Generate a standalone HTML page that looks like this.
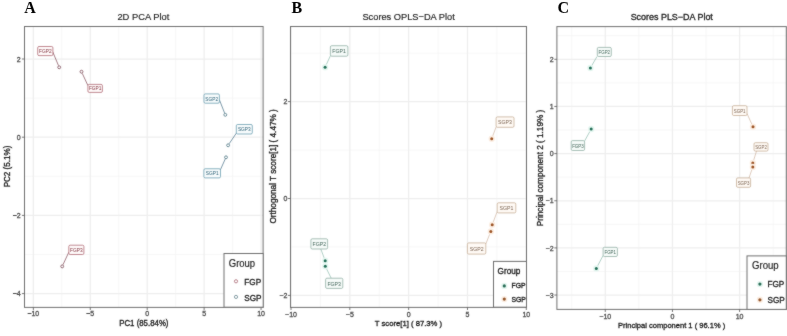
<!DOCTYPE html>
<html><head><meta charset="utf-8"><style>
html,body{margin:0;padding:0;background:#fff;}
body{width:787px;height:336px;overflow:hidden;}
svg{display:block;}
</style></head><body>
<svg width="787" height="336" viewBox="0 0 787 336">
<defs><filter id="bl" x="0" y="0" width="787" height="336" filterUnits="userSpaceOnUse" color-interpolation-filters="sRGB"><feConvolveMatrix order="3" kernelMatrix="1 2 1 2 24.0 2 1 2 1" edgeMode="duplicate" preserveAlpha="true"/></filter><filter id="bl2" x="0" y="0" width="787" height="336" filterUnits="userSpaceOnUse" color-interpolation-filters="sRGB"><feConvolveMatrix order="3" kernelMatrix="0 1 0 1 40 1 0 1 0" preserveAlpha="false"/></filter></defs>
<rect width="787" height="336" fill="#fff"/>
<g filter="url(#bl)">
<rect width="787" height="336" fill="#fff"/>
<g>
<line x1="61.81" y1="26.5" x2="61.81" y2="307.4" stroke="#f3f3f3" stroke-width="0.7"/>
<line x1="118.74" y1="26.5" x2="118.74" y2="307.4" stroke="#f3f3f3" stroke-width="0.7"/>
<line x1="175.66" y1="26.5" x2="175.66" y2="307.4" stroke="#f3f3f3" stroke-width="0.7"/>
<line x1="232.59" y1="26.5" x2="232.59" y2="307.4" stroke="#f3f3f3" stroke-width="0.7"/>
<line x1="24.5" y1="98.1" x2="263.1" y2="98.1" stroke="#f3f3f3" stroke-width="0.7"/>
<line x1="24.5" y1="176.3" x2="263.1" y2="176.3" stroke="#f3f3f3" stroke-width="0.7"/>
<line x1="24.5" y1="254.5" x2="263.1" y2="254.5" stroke="#f3f3f3" stroke-width="0.7"/>
<line x1="33.35" y1="26.5" x2="33.35" y2="307.4" stroke="#eeeeee" stroke-width="1.25"/>
<line x1="90.27" y1="26.5" x2="90.27" y2="307.4" stroke="#eeeeee" stroke-width="1.25"/>
<line x1="147.2" y1="26.5" x2="147.2" y2="307.4" stroke="#eeeeee" stroke-width="1.25"/>
<line x1="204.12" y1="26.5" x2="204.12" y2="307.4" stroke="#eeeeee" stroke-width="1.25"/>
<line x1="261.05" y1="26.5" x2="261.05" y2="307.4" stroke="#eeeeee" stroke-width="1.25"/>
<line x1="24.5" y1="59" x2="263.1" y2="59" stroke="#eeeeee" stroke-width="1.25"/>
<line x1="24.5" y1="137.2" x2="263.1" y2="137.2" stroke="#eeeeee" stroke-width="1.25"/>
<line x1="24.5" y1="215.4" x2="263.1" y2="215.4" stroke="#eeeeee" stroke-width="1.25"/>
<line x1="24.5" y1="293.6" x2="263.1" y2="293.6" stroke="#eeeeee" stroke-width="1.25"/>
<line x1="58.51" y1="65.64" x2="52.6" y2="51.5" stroke="#6a2836" stroke-width="0.6"/>
<line x1="82.26" y1="73.33" x2="87.9" y2="85.5" stroke="#6a2836" stroke-width="0.6"/>
<line x1="62.96" y1="264.77" x2="68.8" y2="252.2" stroke="#6a2836" stroke-width="0.6"/>
<line x1="224.64" y1="113.13" x2="219.3" y2="99.6" stroke="#24546e" stroke-width="0.6"/>
<line x1="229.11" y1="143.81" x2="237.4" y2="131.6" stroke="#24546e" stroke-width="0.6"/>
<line x1="225.26" y1="158.94" x2="220.3" y2="170" stroke="#24546e" stroke-width="0.6"/>
<rect x="37.7" y="46.5" width="15.2" height="9.1" rx="1.3" fill="#fffafa" stroke="#a85a66" stroke-width="0.7"/>
<text x="45.3" y="53.04" font-size="4.8" text-anchor="middle" fill="#7e2e3a" font-weight="normal" font-family='"Liberation Sans", sans-serif' transform="translate(45.3 53.04) scale(1 1.15) translate(-45.3 -53.04)">FGP2</text>
<rect x="87.9" y="84.4" width="14.5" height="8" rx="1.3" fill="#fffafa" stroke="#a85a66" stroke-width="0.7"/>
<text x="95.15" y="90.39" font-size="4.8" text-anchor="middle" fill="#7e2e3a" font-weight="normal" font-family='"Liberation Sans", sans-serif' transform="translate(95.15 90.39) scale(1 1.15) translate(-95.15 -90.39)">FGP1</text>
<rect x="68.8" y="245.2" width="15.1" height="9.3" rx="1.3" fill="#fffafa" stroke="#a85a66" stroke-width="0.7"/>
<text x="76.35" y="251.84" font-size="4.8" text-anchor="middle" fill="#7e2e3a" font-weight="normal" font-family='"Liberation Sans", sans-serif' transform="translate(76.35 251.84) scale(1 1.15) translate(-76.35 -251.84)">FGP3</text>
<rect x="204" y="93.9" width="15.4" height="9.3" rx="1.3" fill="#f8fcfd" stroke="#5a94a8" stroke-width="0.7"/>
<text x="211.7" y="100.54" font-size="4.8" text-anchor="middle" fill="#285e74" font-weight="normal" font-family='"Liberation Sans", sans-serif' transform="translate(211.7 100.54) scale(1 1.15) translate(-211.7 -100.54)">SGP2</text>
<rect x="236.3" y="124.5" width="16" height="9.5" rx="1.3" fill="#f8fcfd" stroke="#5a94a8" stroke-width="0.7"/>
<text x="244.3" y="131.24" font-size="4.8" text-anchor="middle" fill="#285e74" font-weight="normal" font-family='"Liberation Sans", sans-serif' transform="translate(244.3 131.24) scale(1 1.15) translate(-244.3 -131.24)">SGP3</text>
<rect x="203.9" y="168.75" width="16.6" height="9.15" rx="1.3" fill="#f8fcfd" stroke="#5a94a8" stroke-width="0.7"/>
<text x="212.2" y="175.31" font-size="4.8" text-anchor="middle" fill="#285e74" font-weight="normal" font-family='"Liberation Sans", sans-serif' transform="translate(212.2 175.31) scale(1 1.15) translate(-212.2 -175.31)">SGP1</text>
<circle cx="59.2" cy="67.3" r="1.45" fill="none" stroke="#74404e" stroke-width="0.75"/>
<circle cx="81.5" cy="71.7" r="1.45" fill="none" stroke="#74404e" stroke-width="0.75"/>
<circle cx="62.2" cy="266.4" r="1.45" fill="none" stroke="#74404e" stroke-width="0.75"/>
<circle cx="225.3" cy="114.8" r="1.45" fill="none" stroke="#46707e" stroke-width="0.75"/>
<circle cx="228.1" cy="145.3" r="1.45" fill="none" stroke="#46707e" stroke-width="0.75"/>
<circle cx="226" cy="157.3" r="1.45" fill="none" stroke="#46707e" stroke-width="0.75"/>
<rect x="24.5" y="26.5" width="238.6" height="280.9" fill="none" stroke="#707070" stroke-width="1.0"/>
<line x1="33.35" y1="307.4" x2="33.35" y2="310" stroke="#555" stroke-width="0.8"/>
<text x="33.35" y="316.5" font-size="7" text-anchor="middle" fill="#4d4d4d" font-weight="normal" font-family='"Liberation Sans", sans-serif' transform="translate(33.35 316.5) scale(1 1.08) translate(-33.35 -316.5)" stroke="#4d4d4d" stroke-width="0.3">−10</text>
<line x1="90.27" y1="307.4" x2="90.27" y2="310" stroke="#555" stroke-width="0.8"/>
<text x="90.27" y="316.5" font-size="7" text-anchor="middle" fill="#4d4d4d" font-weight="normal" font-family='"Liberation Sans", sans-serif' transform="translate(90.27 316.5) scale(1 1.08) translate(-90.27 -316.5)" stroke="#4d4d4d" stroke-width="0.3">−5</text>
<line x1="147.2" y1="307.4" x2="147.2" y2="310" stroke="#555" stroke-width="0.8"/>
<text x="147.2" y="316.5" font-size="7" text-anchor="middle" fill="#4d4d4d" font-weight="normal" font-family='"Liberation Sans", sans-serif' transform="translate(147.2 316.5) scale(1 1.08) translate(-147.2 -316.5)" stroke="#4d4d4d" stroke-width="0.3">0</text>
<line x1="204.12" y1="307.4" x2="204.12" y2="310" stroke="#555" stroke-width="0.8"/>
<text x="204.12" y="316.5" font-size="7" text-anchor="middle" fill="#4d4d4d" font-weight="normal" font-family='"Liberation Sans", sans-serif' transform="translate(204.12 316.5) scale(1 1.08) translate(-204.12 -316.5)" stroke="#4d4d4d" stroke-width="0.3">5</text>
<line x1="261.05" y1="307.4" x2="261.05" y2="310" stroke="#555" stroke-width="0.8"/>
<text x="261.05" y="316.5" font-size="7" text-anchor="middle" fill="#4d4d4d" font-weight="normal" font-family='"Liberation Sans", sans-serif' transform="translate(261.05 316.5) scale(1 1.08) translate(-261.05 -316.5)" stroke="#4d4d4d" stroke-width="0.3">10</text>
<line x1="21.9" y1="59" x2="24.5" y2="59" stroke="#555" stroke-width="0.8"/>
<text x="20.6" y="61.87" font-size="7" text-anchor="end" fill="#4d4d4d" font-weight="normal" font-family='"Liberation Sans", sans-serif' transform="translate(20.6 61.87) scale(1 1.08) translate(-20.6 -61.87)" stroke="#4d4d4d" stroke-width="0.3">2</text>
<line x1="21.9" y1="137.2" x2="24.5" y2="137.2" stroke="#555" stroke-width="0.8"/>
<text x="20.6" y="140.07" font-size="7" text-anchor="end" fill="#4d4d4d" font-weight="normal" font-family='"Liberation Sans", sans-serif' transform="translate(20.6 140.07) scale(1 1.08) translate(-20.6 -140.07)" stroke="#4d4d4d" stroke-width="0.3">0</text>
<line x1="21.9" y1="215.4" x2="24.5" y2="215.4" stroke="#555" stroke-width="0.8"/>
<text x="20.6" y="218.27" font-size="7" text-anchor="end" fill="#4d4d4d" font-weight="normal" font-family='"Liberation Sans", sans-serif' transform="translate(20.6 218.27) scale(1 1.08) translate(-20.6 -218.27)" stroke="#4d4d4d" stroke-width="0.3">−2</text>
<line x1="21.9" y1="293.6" x2="24.5" y2="293.6" stroke="#555" stroke-width="0.8"/>
<text x="20.6" y="296.47" font-size="7" text-anchor="end" fill="#4d4d4d" font-weight="normal" font-family='"Liberation Sans", sans-serif' transform="translate(20.6 296.47) scale(1 1.08) translate(-20.6 -296.47)" stroke="#4d4d4d" stroke-width="0.3">−4</text>
<text x="143.85" y="325.9" font-size="7.85" text-anchor="middle" fill="#1a1a1a" font-weight="normal" font-family='"Liberation Sans", sans-serif' transform="translate(143.85 325.9) scale(1 1.12) translate(-143.85 -325.9)" stroke="#1a1a1a" stroke-width="0.3">PC1 (85.84%)</text>
<text x="9.6" y="166.5" font-size="8.1" text-anchor="middle" fill="#1a1a1a" font-weight="normal" font-family='"Liberation Sans", sans-serif' transform="rotate(-90 9.6 166.5) translate(9.6 166.5) scale(1 1.12) translate(-9.6 -166.5)" stroke="#1a1a1a" stroke-width="0.3">PC2 (5.1%)</text>
<text x="143.4" y="19.8" font-size="9.35" text-anchor="middle" fill="#1a1a1a" font-weight="normal" font-family='"Liberation Sans", sans-serif' stroke="#1a1a1a" stroke-width="0.15">2D PCA Plot</text>
<rect x="224" y="253.5" width="39.2" height="53.7" fill="#fff" stroke="#707070" stroke-width="1.0"/>
<text x="228.8" y="266.6" font-size="9.5" text-anchor="start" fill="#1a1a1a" font-weight="normal" font-family='"Liberation Sans", sans-serif' transform="translate(228.8 266.6) scale(1 1.1) translate(-228.8 -266.6)" stroke="#1a1a1a" stroke-width="0.15">Group</text>
<circle cx="236" cy="281.3" r="1.6" fill="none" stroke="#a86470" stroke-width="0.8"/>
<text x="244.3" y="285" font-size="8.2" text-anchor="start" fill="#1a1a1a" font-weight="normal" font-family='"Liberation Sans", sans-serif' transform="translate(244.3 285) scale(1 1.1) translate(-244.3 -285)" stroke="#1a1a1a" stroke-width="0.3">FGP</text>
<circle cx="236" cy="296.9" r="1.6" fill="none" stroke="#688890" stroke-width="0.8"/>
<text x="244.3" y="301" font-size="8.2" text-anchor="start" fill="#1a1a1a" font-weight="normal" font-family='"Liberation Sans", sans-serif' transform="translate(244.3 301) scale(1 1.1) translate(-244.3 -301)" stroke="#1a1a1a" stroke-width="0.3">SGP</text>
</g>
<g>
<line x1="320.41" y1="26.5" x2="320.41" y2="307.4" stroke="#f3f3f3" stroke-width="0.7"/>
<line x1="379.24" y1="26.5" x2="379.24" y2="307.4" stroke="#f3f3f3" stroke-width="0.7"/>
<line x1="438.06" y1="26.5" x2="438.06" y2="307.4" stroke="#f3f3f3" stroke-width="0.7"/>
<line x1="496.89" y1="26.5" x2="496.89" y2="307.4" stroke="#f3f3f3" stroke-width="0.7"/>
<line x1="290.5" y1="53.15" x2="526.5" y2="53.15" stroke="#f3f3f3" stroke-width="0.7"/>
<line x1="290.5" y1="150.05" x2="526.5" y2="150.05" stroke="#f3f3f3" stroke-width="0.7"/>
<line x1="290.5" y1="246.95" x2="526.5" y2="246.95" stroke="#f3f3f3" stroke-width="0.7"/>
<line x1="291" y1="26.5" x2="291" y2="307.4" stroke="#eeeeee" stroke-width="1.25"/>
<line x1="349.82" y1="26.5" x2="349.82" y2="307.4" stroke="#eeeeee" stroke-width="1.25"/>
<line x1="408.65" y1="26.5" x2="408.65" y2="307.4" stroke="#eeeeee" stroke-width="1.25"/>
<line x1="467.47" y1="26.5" x2="467.47" y2="307.4" stroke="#eeeeee" stroke-width="1.25"/>
<line x1="526.3" y1="26.5" x2="526.3" y2="307.4" stroke="#eeeeee" stroke-width="1.25"/>
<line x1="290.5" y1="101.6" x2="526.5" y2="101.6" stroke="#eeeeee" stroke-width="1.25"/>
<line x1="290.5" y1="198.5" x2="526.5" y2="198.5" stroke="#eeeeee" stroke-width="1.25"/>
<line x1="290.5" y1="295.4" x2="526.5" y2="295.4" stroke="#eeeeee" stroke-width="1.25"/>
<line x1="325.86" y1="65.57" x2="330.4" y2="55.8" stroke="#7ab0a0" stroke-width="0.6"/>
<line x1="324.57" y1="259.02" x2="320.8" y2="249" stroke="#7ab0a0" stroke-width="0.6"/>
<line x1="326.1" y1="267.91" x2="331.2" y2="278.2" stroke="#7ab0a0" stroke-width="0.6"/>
<line x1="492.33" y1="137.02" x2="496.1" y2="127" stroke="#c8a890" stroke-width="0.6"/>
<line x1="492.83" y1="223.12" x2="497.2" y2="211.5" stroke="#c8a890" stroke-width="0.6"/>
<line x1="490.14" y1="233.07" x2="485.8" y2="244" stroke="#c8a890" stroke-width="0.6"/>
<rect x="330.4" y="45.7" width="17.5" height="10.5" rx="1.3" fill="#f6fbf9" stroke="#86a89c" stroke-width="0.7"/>
<text x="339.15" y="53.2" font-size="5.2" text-anchor="middle" fill="#3e6256" font-weight="normal" font-family='"Liberation Sans", sans-serif' transform="translate(339.15 53.2) scale(1 1.2) translate(-339.15 -53.2)">FGP1</text>
<rect x="310.9" y="238.8" width="16.7" height="10.2" rx="1.3" fill="#f6fbf9" stroke="#86a89c" stroke-width="0.7"/>
<text x="319.25" y="246.15" font-size="5.2" text-anchor="middle" fill="#3e6256" font-weight="normal" font-family='"Liberation Sans", sans-serif' transform="translate(319.25 246.15) scale(1 1.2) translate(-319.25 -246.15)">FGP2</text>
<rect x="325.6" y="278.2" width="17.2" height="10.2" rx="1.3" fill="#f6fbf9" stroke="#86a89c" stroke-width="0.7"/>
<text x="334.2" y="285.55" font-size="5.2" text-anchor="middle" fill="#3e6256" font-weight="normal" font-family='"Liberation Sans", sans-serif' transform="translate(334.2 285.55) scale(1 1.2) translate(-334.2 -285.55)">FGP3</text>
<rect x="496.1" y="116.9" width="17.9" height="10.4" rx="1.3" fill="#fffaf5" stroke="#c0a68c" stroke-width="0.7"/>
<text x="505.05" y="124.35" font-size="5.2" text-anchor="middle" fill="#7a6250" font-weight="normal" font-family='"Liberation Sans", sans-serif' transform="translate(505.05 124.35) scale(1 1.2) translate(-505.05 -124.35)">SGP3</text>
<rect x="497.2" y="202.8" width="18.6" height="10.1" rx="1.3" fill="#fffaf5" stroke="#c0a68c" stroke-width="0.7"/>
<text x="506.5" y="210.1" font-size="5.2" text-anchor="middle" fill="#7a6250" font-weight="normal" font-family='"Liberation Sans", sans-serif' transform="translate(506.5 210.1) scale(1 1.2) translate(-506.5 -210.1)">SGP1</text>
<rect x="467.4" y="242.9" width="18.4" height="11.2" rx="1.3" fill="#fffaf5" stroke="#c0a68c" stroke-width="0.7"/>
<text x="476.6" y="250.75" font-size="5.2" text-anchor="middle" fill="#7a6250" font-weight="normal" font-family='"Liberation Sans", sans-serif' transform="translate(476.6 250.75) scale(1 1.2) translate(-476.6 -250.75)">SGP2</text>
<circle cx="325.1" cy="67.2" r="3.2" fill="#e6f7f1"/>
<circle cx="325.1" cy="67.2" r="1.5" fill="#226e57"/>
<circle cx="325.2" cy="260.7" r="3.2" fill="#e6f7f1"/>
<circle cx="325.2" cy="260.7" r="1.5" fill="#226e57"/>
<circle cx="325.3" cy="266.3" r="3.2" fill="#e6f7f1"/>
<circle cx="325.3" cy="266.3" r="1.5" fill="#226e57"/>
<circle cx="491.7" cy="138.7" r="3.2" fill="#fcefe4"/>
<circle cx="491.7" cy="138.7" r="1.5" fill="#9c5426"/>
<circle cx="492.2" cy="224.8" r="3.2" fill="#fcefe4"/>
<circle cx="492.2" cy="224.8" r="1.5" fill="#9c5426"/>
<circle cx="490.8" cy="231.4" r="3.2" fill="#fcefe4"/>
<circle cx="490.8" cy="231.4" r="1.5" fill="#9c5426"/>
<rect x="290.5" y="26.5" width="236" height="280.9" fill="none" stroke="#707070" stroke-width="1.0"/>
<line x1="291" y1="307.4" x2="291" y2="310" stroke="#555" stroke-width="0.8"/>
<text x="291" y="317" font-size="7" text-anchor="middle" fill="#4d4d4d" font-weight="normal" font-family='"Liberation Sans", sans-serif' transform="translate(291 317) scale(1 1.05) translate(-291 -317)" stroke="#4d4d4d" stroke-width="0.3">−10</text>
<line x1="349.82" y1="307.4" x2="349.82" y2="310" stroke="#555" stroke-width="0.8"/>
<text x="349.82" y="317" font-size="7" text-anchor="middle" fill="#4d4d4d" font-weight="normal" font-family='"Liberation Sans", sans-serif' transform="translate(349.82 317) scale(1 1.05) translate(-349.82 -317)" stroke="#4d4d4d" stroke-width="0.3">−5</text>
<line x1="408.65" y1="307.4" x2="408.65" y2="310" stroke="#555" stroke-width="0.8"/>
<text x="408.65" y="317" font-size="7" text-anchor="middle" fill="#4d4d4d" font-weight="normal" font-family='"Liberation Sans", sans-serif' transform="translate(408.65 317) scale(1 1.05) translate(-408.65 -317)" stroke="#4d4d4d" stroke-width="0.3">0</text>
<line x1="467.47" y1="307.4" x2="467.47" y2="310" stroke="#555" stroke-width="0.8"/>
<text x="467.47" y="317" font-size="7" text-anchor="middle" fill="#4d4d4d" font-weight="normal" font-family='"Liberation Sans", sans-serif' transform="translate(467.47 317) scale(1 1.05) translate(-467.47 -317)" stroke="#4d4d4d" stroke-width="0.3">5</text>
<line x1="526.3" y1="307.4" x2="526.3" y2="310" stroke="#555" stroke-width="0.8"/>
<text x="526.3" y="317" font-size="7" text-anchor="middle" fill="#4d4d4d" font-weight="normal" font-family='"Liberation Sans", sans-serif' transform="translate(526.3 317) scale(1 1.05) translate(-526.3 -317)" stroke="#4d4d4d" stroke-width="0.3">10</text>
<line x1="287.9" y1="101.6" x2="290.5" y2="101.6" stroke="#555" stroke-width="0.8"/>
<text x="287.4" y="104.39" font-size="7" text-anchor="end" fill="#4d4d4d" font-weight="normal" font-family='"Liberation Sans", sans-serif' transform="translate(287.4 104.39) scale(1 1.05) translate(-287.4 -104.39)" stroke="#4d4d4d" stroke-width="0.3">2</text>
<line x1="287.9" y1="198.5" x2="290.5" y2="198.5" stroke="#555" stroke-width="0.8"/>
<text x="287.4" y="201.29" font-size="7" text-anchor="end" fill="#4d4d4d" font-weight="normal" font-family='"Liberation Sans", sans-serif' transform="translate(287.4 201.29) scale(1 1.05) translate(-287.4 -201.29)" stroke="#4d4d4d" stroke-width="0.3">0</text>
<line x1="287.9" y1="295.4" x2="290.5" y2="295.4" stroke="#555" stroke-width="0.8"/>
<text x="287.4" y="298.19" font-size="7" text-anchor="end" fill="#4d4d4d" font-weight="normal" font-family='"Liberation Sans", sans-serif' transform="translate(287.4 298.19) scale(1 1.05) translate(-287.4 -298.19)" stroke="#4d4d4d" stroke-width="0.3">−2</text>
<text x="408.5" y="325.8" font-size="7.7" text-anchor="middle" fill="#1a1a1a" font-weight="normal" font-family='"Liberation Sans", sans-serif' transform="translate(408.5 325.8) scale(1 1.05) translate(-408.5 -325.8)" stroke="#1a1a1a" stroke-width="0.3">T score[1] ( 87.3% )</text>
<text x="276.4" y="166.4" font-size="8.2" text-anchor="middle" fill="#1a1a1a" font-weight="normal" font-family='"Liberation Sans", sans-serif' transform="rotate(-90 276.4 166.4) translate(276.4 166.4) scale(1 1.05) translate(-276.4 -166.4)" stroke="#1a1a1a" stroke-width="0.3">Orthogonal T score[1] ( 4.47% )</text>
<text x="408.6" y="19.7" font-size="9.25" text-anchor="middle" fill="#1a1a1a" font-weight="normal" font-family='"Liberation Sans", sans-serif' stroke="#1a1a1a" stroke-width="0.15">Scores OPLS−DA Plot</text>
<rect x="493.5" y="261.4" width="33" height="45.8" fill="#fff" stroke="#707070" stroke-width="1.0"/>
<text x="497.6" y="273.6" font-size="8.2" text-anchor="start" fill="#1a1a1a" font-weight="normal" font-family='"Liberation Sans", sans-serif' transform="translate(497.6 273.6) scale(1 1.05) translate(-497.6 -273.6)" stroke="#1a1a1a" stroke-width="0.3">Group</text>
<circle cx="504.3" cy="285.9" r="3.2" fill="#e6f7f1"/>
<circle cx="504.3" cy="285.9" r="1.6" fill="#2a6e58"/>
<text x="511.5" y="288.5" font-size="6.8" text-anchor="start" fill="#1a1a1a" font-weight="normal" font-family='"Liberation Sans", sans-serif' transform="translate(511.5 288.5) scale(1 1.05) translate(-511.5 -288.5)" stroke="#1a1a1a" stroke-width="0.3">FGP</text>
<circle cx="504.3" cy="299.1" r="3.2" fill="#fcefe4"/>
<circle cx="504.3" cy="299.1" r="1.6" fill="#94582e"/>
<text x="511.5" y="302" font-size="6.8" text-anchor="start" fill="#1a1a1a" font-weight="normal" font-family='"Liberation Sans", sans-serif' transform="translate(511.5 302) scale(1 1.05) translate(-511.5 -302)" stroke="#1a1a1a" stroke-width="0.3">SGP</text>
</g>
<g>
<line x1="571.7" y1="26.6" x2="571.7" y2="309.4" stroke="#f3f3f3" stroke-width="0.7"/>
<line x1="638.87" y1="26.6" x2="638.87" y2="309.4" stroke="#f3f3f3" stroke-width="0.7"/>
<line x1="706.04" y1="26.6" x2="706.04" y2="309.4" stroke="#f3f3f3" stroke-width="0.7"/>
<line x1="773.21" y1="26.6" x2="773.21" y2="309.4" stroke="#f3f3f3" stroke-width="0.7"/>
<line x1="556.9" y1="35.72" x2="786.3" y2="35.72" stroke="#f3f3f3" stroke-width="0.7"/>
<line x1="556.9" y1="82.88" x2="786.3" y2="82.88" stroke="#f3f3f3" stroke-width="0.7"/>
<line x1="556.9" y1="130.03" x2="786.3" y2="130.03" stroke="#f3f3f3" stroke-width="0.7"/>
<line x1="556.9" y1="177.17" x2="786.3" y2="177.17" stroke="#f3f3f3" stroke-width="0.7"/>
<line x1="556.9" y1="224.32" x2="786.3" y2="224.32" stroke="#f3f3f3" stroke-width="0.7"/>
<line x1="556.9" y1="271.48" x2="786.3" y2="271.48" stroke="#f3f3f3" stroke-width="0.7"/>
<line x1="605.28" y1="26.6" x2="605.28" y2="309.4" stroke="#eeeeee" stroke-width="1.25"/>
<line x1="672.45" y1="26.6" x2="672.45" y2="309.4" stroke="#eeeeee" stroke-width="1.25"/>
<line x1="739.62" y1="26.6" x2="739.62" y2="309.4" stroke="#eeeeee" stroke-width="1.25"/>
<line x1="556.9" y1="59.3" x2="786.3" y2="59.3" stroke="#eeeeee" stroke-width="1.25"/>
<line x1="556.9" y1="106.45" x2="786.3" y2="106.45" stroke="#eeeeee" stroke-width="1.25"/>
<line x1="556.9" y1="153.6" x2="786.3" y2="153.6" stroke="#eeeeee" stroke-width="1.25"/>
<line x1="556.9" y1="200.75" x2="786.3" y2="200.75" stroke="#eeeeee" stroke-width="1.25"/>
<line x1="556.9" y1="247.9" x2="786.3" y2="247.9" stroke="#eeeeee" stroke-width="1.25"/>
<line x1="556.9" y1="295.05" x2="786.3" y2="295.05" stroke="#eeeeee" stroke-width="1.25"/>
<line x1="591.3" y1="66.44" x2="597" y2="56.5" stroke="#7ab0a0" stroke-width="0.6"/>
<line x1="590.33" y1="130.58" x2="584.6" y2="141" stroke="#7ab0a0" stroke-width="0.6"/>
<line x1="597.14" y1="266.81" x2="603.1" y2="255.5" stroke="#7ab0a0" stroke-width="0.6"/>
<line x1="752.26" y1="125.16" x2="747" y2="113.5" stroke="#c8a890" stroke-width="0.6"/>
<line x1="753.33" y1="161.28" x2="756.5" y2="151.1" stroke="#c8a890" stroke-width="0.6"/>
<line x1="752.21" y1="168.7" x2="749" y2="177.9" stroke="#c8a890" stroke-width="0.6"/>
<rect x="597.3" y="47.4" width="14" height="9.1" rx="1.3" fill="#f6fbf9" stroke="#86a89c" stroke-width="0.7"/>
<text x="604.3" y="53.93" font-size="4.4" text-anchor="middle" fill="#3e6256" font-weight="normal" font-family='"Liberation Sans", sans-serif' transform="translate(604.3 53.93) scale(1 1.25) translate(-604.3 -53.93)">FGP2</text>
<rect x="571.2" y="140.6" width="13.4" height="9.9" rx="1.3" fill="#f6fbf9" stroke="#86a89c" stroke-width="0.7"/>
<text x="577.9" y="147.53" font-size="4.4" text-anchor="middle" fill="#3e6256" font-weight="normal" font-family='"Liberation Sans", sans-serif' transform="translate(577.9 147.53) scale(1 1.25) translate(-577.9 -147.53)">FGP3</text>
<rect x="603.1" y="247.3" width="14.3" height="9.2" rx="1.3" fill="#f6fbf9" stroke="#86a89c" stroke-width="0.7"/>
<text x="610.25" y="253.88" font-size="4.4" text-anchor="middle" fill="#3e6256" font-weight="normal" font-family='"Liberation Sans", sans-serif' transform="translate(610.25 253.88) scale(1 1.25) translate(-610.25 -253.88)">FGP1</text>
<rect x="732.4" y="105.7" width="14.6" height="9.8" rx="1.3" fill="#fffaf5" stroke="#c0a68c" stroke-width="0.7"/>
<text x="739.7" y="112.58" font-size="4.4" text-anchor="middle" fill="#7a6250" font-weight="normal" font-family='"Liberation Sans", sans-serif' transform="translate(739.7 112.58) scale(1 1.25) translate(-739.7 -112.58)">SGP1</text>
<rect x="754" y="142.7" width="14" height="8.4" rx="1.3" fill="#fffaf5" stroke="#c0a68c" stroke-width="0.7"/>
<text x="761" y="148.88" font-size="4.4" text-anchor="middle" fill="#7a6250" font-weight="normal" font-family='"Liberation Sans", sans-serif' transform="translate(761 148.88) scale(1 1.25) translate(-761 -148.88)">SGP2</text>
<rect x="736.5" y="177.9" width="14.1" height="9.4" rx="1.3" fill="#fffaf5" stroke="#c0a68c" stroke-width="0.7"/>
<text x="743.55" y="184.58" font-size="4.4" text-anchor="middle" fill="#7a6250" font-weight="normal" font-family='"Liberation Sans", sans-serif' transform="translate(743.55 184.58) scale(1 1.25) translate(-743.55 -184.58)">SGP3</text>
<circle cx="590.4" cy="68" r="3.2" fill="#e6f7f1"/>
<circle cx="590.4" cy="68" r="1.5" fill="#226e57"/>
<circle cx="591.2" cy="129" r="3.2" fill="#e6f7f1"/>
<circle cx="591.2" cy="129" r="1.5" fill="#226e57"/>
<circle cx="596.3" cy="268.4" r="3.2" fill="#e6f7f1"/>
<circle cx="596.3" cy="268.4" r="1.5" fill="#226e57"/>
<circle cx="753" cy="126.8" r="3.2" fill="#fcefe4"/>
<circle cx="753" cy="126.8" r="1.5" fill="#9c5426"/>
<circle cx="752.8" cy="163" r="3.2" fill="#fcefe4"/>
<circle cx="752.8" cy="163" r="1.5" fill="#9c5426"/>
<circle cx="752.8" cy="167" r="3.2" fill="#fcefe4"/>
<circle cx="752.8" cy="167" r="1.5" fill="#9c5426"/>
<rect x="556.9" y="26.6" width="229.4" height="282.8" fill="none" stroke="#707070" stroke-width="1.0"/>
<line x1="605.28" y1="309.4" x2="605.28" y2="312" stroke="#555" stroke-width="0.8"/>
<text x="605.28" y="318.8" font-size="7" text-anchor="middle" fill="#4d4d4d" font-weight="normal" font-family='"Liberation Sans", sans-serif' stroke="#4d4d4d" stroke-width="0.3">−10</text>
<line x1="672.45" y1="309.4" x2="672.45" y2="312" stroke="#555" stroke-width="0.8"/>
<text x="672.45" y="318.8" font-size="7" text-anchor="middle" fill="#4d4d4d" font-weight="normal" font-family='"Liberation Sans", sans-serif' stroke="#4d4d4d" stroke-width="0.3">0</text>
<line x1="739.62" y1="309.4" x2="739.62" y2="312" stroke="#555" stroke-width="0.8"/>
<text x="739.62" y="318.8" font-size="7" text-anchor="middle" fill="#4d4d4d" font-weight="normal" font-family='"Liberation Sans", sans-serif' stroke="#4d4d4d" stroke-width="0.3">10</text>
<line x1="554.3" y1="59.3" x2="556.9" y2="59.3" stroke="#555" stroke-width="0.8"/>
<text x="553.6" y="61.96" font-size="7" text-anchor="end" fill="#4d4d4d" font-weight="normal" font-family='"Liberation Sans", sans-serif' stroke="#4d4d4d" stroke-width="0.3">2</text>
<line x1="554.3" y1="106.45" x2="556.9" y2="106.45" stroke="#555" stroke-width="0.8"/>
<text x="553.6" y="109.11" font-size="7" text-anchor="end" fill="#4d4d4d" font-weight="normal" font-family='"Liberation Sans", sans-serif' stroke="#4d4d4d" stroke-width="0.3">1</text>
<line x1="554.3" y1="153.6" x2="556.9" y2="153.6" stroke="#555" stroke-width="0.8"/>
<text x="553.6" y="156.26" font-size="7" text-anchor="end" fill="#4d4d4d" font-weight="normal" font-family='"Liberation Sans", sans-serif' stroke="#4d4d4d" stroke-width="0.3">0</text>
<line x1="554.3" y1="200.75" x2="556.9" y2="200.75" stroke="#555" stroke-width="0.8"/>
<text x="553.6" y="203.41" font-size="7" text-anchor="end" fill="#4d4d4d" font-weight="normal" font-family='"Liberation Sans", sans-serif' stroke="#4d4d4d" stroke-width="0.3">−1</text>
<line x1="554.3" y1="247.9" x2="556.9" y2="247.9" stroke="#555" stroke-width="0.8"/>
<text x="553.6" y="250.56" font-size="7" text-anchor="end" fill="#4d4d4d" font-weight="normal" font-family='"Liberation Sans", sans-serif' stroke="#4d4d4d" stroke-width="0.3">−2</text>
<line x1="554.3" y1="295.05" x2="556.9" y2="295.05" stroke="#555" stroke-width="0.8"/>
<text x="553.6" y="297.71" font-size="7" text-anchor="end" fill="#4d4d4d" font-weight="normal" font-family='"Liberation Sans", sans-serif' stroke="#4d4d4d" stroke-width="0.3">−3</text>
<text x="671.6" y="328.3" font-size="7.55" text-anchor="middle" fill="#1a1a1a" font-weight="normal" font-family='"Liberation Sans", sans-serif' transform="translate(671.6 328.3) scale(1 1.02) translate(-671.6 -328.3)" stroke="#1a1a1a" stroke-width="0.3">Principal component 1 ( 96.1% )</text>
<text x="542.6" y="168" font-size="8.2" text-anchor="middle" fill="#1a1a1a" font-weight="normal" font-family='"Liberation Sans", sans-serif' transform="rotate(-90 542.6 168) translate(542.6 168) scale(1 1.02) translate(-542.6 -168)" stroke="#1a1a1a" stroke-width="0.3">Principal component 2 ( 1.19% )</text>
<text x="671.75" y="19.9" font-size="8.95" text-anchor="middle" fill="#1a1a1a" font-weight="normal" font-family='"Liberation Sans", sans-serif' stroke="#1a1a1a" stroke-width="0.3">Scores PLS−DA Plot</text>
<rect x="747" y="255.9" width="39.3" height="53.5" fill="#fff" stroke="#707070" stroke-width="1.0"/>
<text x="752" y="269.2" font-size="9.6" text-anchor="start" fill="#1a1a1a" font-weight="normal" font-family='"Liberation Sans", sans-serif' transform="translate(752 269.2) scale(1 1.05) translate(-752 -269.2)" stroke="#1a1a1a" stroke-width="0.15">Group</text>
<circle cx="759.9" cy="284.1" r="3.2" fill="#e6f7f1"/>
<circle cx="759.9" cy="284.1" r="1.6" fill="#2a6e58"/>
<text x="767.5" y="286.9" font-size="8.2" text-anchor="start" fill="#1a1a1a" font-weight="normal" font-family='"Liberation Sans", sans-serif' transform="translate(767.5 286.9) scale(1 1.05) translate(-767.5 -286.9)" stroke="#1a1a1a" stroke-width="0.3">FGP</text>
<circle cx="759.9" cy="299.8" r="3.2" fill="#fcefe4"/>
<circle cx="759.9" cy="299.8" r="1.6" fill="#94582e"/>
<text x="767.5" y="303" font-size="8.2" text-anchor="start" fill="#1a1a1a" font-weight="normal" font-family='"Liberation Sans", sans-serif' transform="translate(767.5 303) scale(1 1.05) translate(-767.5 -303)" stroke="#1a1a1a" stroke-width="0.3">SGP</text>
</g>
</g>
<g filter="url(#bl2)">
<text x="24.3" y="12.6" font-size="16" font-weight="bold" fill="#000" font-family='"Liberation Serif", serif'>A</text>
<text x="291.4" y="12.6" font-size="16" font-weight="bold" fill="#000" font-family='"Liberation Serif", serif'>B</text>
<text x="557.6" y="12.9" font-size="16" font-weight="bold" fill="#000" font-family='"Liberation Serif", serif'>C</text>
</g>
</svg>
</body></html>
